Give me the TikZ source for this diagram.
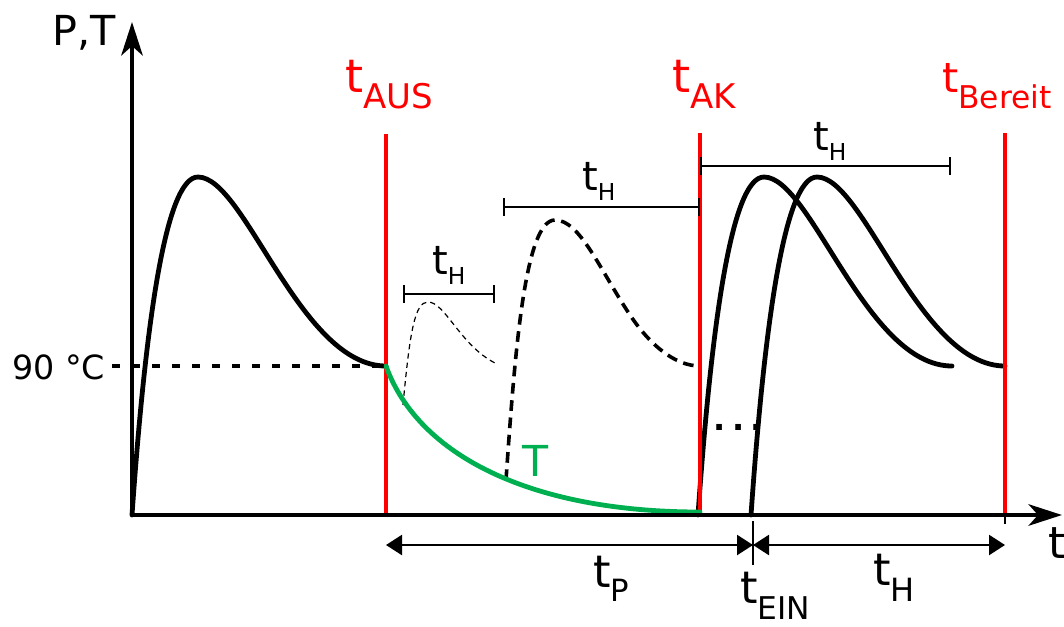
\documentclass[tikz,border=0pt]{standalone}
\usepackage{fontspec}
\setmainfont{DejaVu Sans}
\usetikzlibrary{arrows.meta}
\definecolor{tgreen}{RGB}{0,176,80}
\newcommand{\lbl}[5]{{\fontsize{#1}{#1}\selectfont #4\raisebox{-#3}{\fontsize{#2}{#2}\selectfont #5}}}
\begin{document}
\begin{tikzpicture}[x=0.75pt,y=-0.75pt,
  pulse/.style={line width=3.6pt,line join=round,line cap=round},
  redline/.style={red,line width=2.6pt},
  axisline/.style={line width=3.6pt,-{Stealth[length=25pt,width=16pt,inset=7pt]}},
  dimarrow/.style={line width=1.8pt,{Triangle[length=12pt,width=15pt]}-{Triangle[length=12pt,width=15pt]}},
  bracket/.style={line width=1.8pt,{Bar[width=13pt]}-{Bar[width=13pt]}},
  thindash/.style={line width=0.9pt,dash pattern=on 4pt off 3pt},
  thickdash/.style={line width=2.7pt,dash pattern=on 8pt off 5pt},
  levelline/.style={line width=2.6pt,dash pattern=on 6pt off 9pt},
  lab/.style={inner sep=0pt,anchor=base west}]
\useasboundingbox (0,0) rectangle (1064,626);
\def\pulsepath{(132,515) .. controls (145,330) and (165,177) .. (198,177) .. controls (245,177) and (300,366) .. (386,366)}
% coordinates
\coordinate (O) at (132,515);
\coordinate (ytip) at (132,22);
\coordinate (xtip) at (1062,515);
\coordinate (lvlL) at (112,366);
\coordinate (lvlR) at (386,366);
\coordinate (ausT) at (386,134);
\coordinate (ausB) at (386,515);
\coordinate (akT) at (700,133);
\coordinate (akB) at (700,515);
\coordinate (berT) at (1005,133);
\coordinate (berB) at (1005,515);
\coordinate (berTick) at (1005,524);
\coordinate (einT) at (753,521);
\coordinate (einB) at (753,565);
\coordinate (dAUS) at (386,545);
\coordinate (dEIN) at (753,545);
\coordinate (dBER) at (1005,545);
\coordinate (b1L) at (403,294);
\coordinate (b1R) at (495,294);
\coordinate (b2L) at (503,207);
\coordinate (b2R) at (700,207);
\coordinate (b3L) at (700,166);
\coordinate (b3R) at (951,166);
% level line
\draw[levelline] (lvlL) -- (lvlR);
% pulses
\draw[pulse] \pulsepath;
\draw[pulse,shift={(566,0)}] \pulsepath;
\draw[pulse,shift={(619,0)}] \pulsepath;
% dashed pulses
\draw[thindash] (403,405) .. controls (410,330) and (415,302) .. (428,302) .. controls (445,302) and (460,345) .. (495,363);
\draw[thickdash] (506,480) .. controls (515,350) and (525,220) .. (555,220) .. controls (580,220) and (600,270) .. (630,315) .. controls (650,345) and (675,366) .. (700,366);
% red lines
\draw[redline] (ausT) -- (ausB);
\draw[redline] (akT) -- (akB);
\draw[redline] (berT) -- (berB);
% temperature
\draw[tgreen,line width=3.6pt,line cap=round] (386,366) .. controls (418,455) and (530,512) .. (700,512);
% axes
\draw[axisline] (O) -- (ytip);
\draw[axisline] (O) -- (xtip);
\draw[line width=1.4pt] (berB) -- (berTick);
\draw[line width=1.8pt] (einT) -- (einB);
% dimension arrows
\draw[dimarrow] (dAUS) -- (dEIN);
\draw[dimarrow] (dEIN) -- (dBER);
% brackets
\draw[bracket] (b1L) -- (b1R);
\draw[bracket] (b2L) -- (b2R);
\draw[bracket] (b3L) -- (b3R);
% labels
\node[lab] (lPT) at (52,45) {\fontsize{31pt}{31pt}\selectfont P,T};
\node[lab] (l90) at (12,379) {\fontsize{25pt}{25pt}\selectfont 90 °C};
\node[lab] (lAUS) at (345,92) {\color{red}\lbl{34.5pt}{25.5pt}{12pt}{t}{AUS}};
\node[lab] (lAK) at (672,92) {\color{red}\lbl{34.5pt}{25.5pt}{12pt}{t}{AK}};
\node[lab] (lBer) at (942,92) {\color{red}\lbl{31pt}{23.5pt}{12pt}{t}{Bereit}};
\node[lab] (lH1) at (432,274) {\lbl{30pt}{17.5pt}{8pt}{t}{H}};
\node[lab] (lH2) at (582,190) {\lbl{30pt}{17.5pt}{8pt}{t}{H}};
\node[lab] (lH3) at (813,150) {\lbl{30pt}{17.5pt}{8pt}{t}{H}};
\node[lab] (lP) at (593,587) {\lbl{33.5pt}{23pt}{11pt}{t}{P}};
\node[lab] (lEIN) at (740,603) {\lbl{33.5pt}{23.5pt}{12pt}{t}{EIN}};
\node[lab] (lH4) at (873,585) {\lbl{33.5pt}{24pt}{12pt}{t}{H}};
\node[lab] (lt) at (1048,558) {\fontsize{33pt}{33pt}\selectfont t};
\node[lab] (lT) at (522,476) {\color{tgreen}\fontsize{32pt}{32pt}\selectfont T};
\node[lab] (ldots) at (713,430) {\fontsize{24pt}{24pt}\selectfont\bfseries .\kern5pt.\kern5pt.};
\end{tikzpicture}
\end{document}
